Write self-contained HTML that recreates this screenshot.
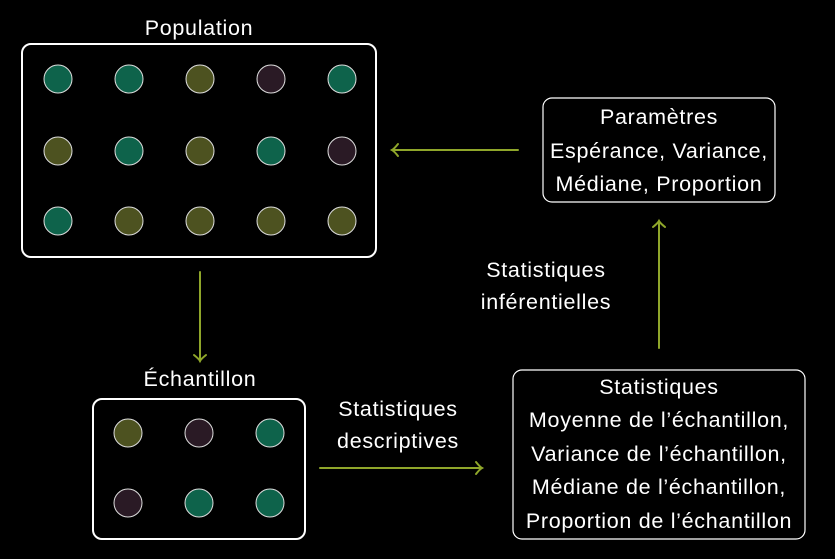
<!DOCTYPE html>
<html><head><meta charset="utf-8"><style>
html,body{margin:0;padding:0;background:#000;}
svg{display:block}
text{font-family:"Liberation Sans",sans-serif;font-size:21.5px;letter-spacing:0.7px;fill:#fff;text-anchor:middle;dominant-baseline:central}
</style></head><body>
<svg width="835" height="559" viewBox="0 0 835 559">
<defs>
<g id="T"><circle r="14" fill="#0e634b" stroke="#ddd" stroke-width="1"/></g>
<g id="O"><circle r="14" fill="#4d5220" stroke="#ddd" stroke-width="1"/></g>
<g id="P"><circle r="14" fill="#2a1a25" stroke="#ddd" stroke-width="1"/></g>
</defs>
<rect x="22" y="44" width="354" height="213" rx="9" fill="none" stroke="#fff" stroke-width="2"/>
<text x="199" y="28">Population</text>
<use href="#T" x="58" y="79"/><use href="#T" x="129" y="79"/><use href="#O" x="200" y="79"/><use href="#P" x="271" y="79"/><use href="#T" x="342" y="79"/>
<use href="#O" x="58" y="151"/><use href="#T" x="129" y="151"/><use href="#O" x="200" y="151"/><use href="#T" x="271" y="151"/><use href="#P" x="342" y="151"/>
<use href="#T" x="58" y="221"/><use href="#O" x="129" y="221"/><use href="#O" x="200" y="221"/><use href="#O" x="271" y="221"/><use href="#O" x="342" y="221"/>

<rect x="93" y="399" width="212" height="140" rx="9" fill="none" stroke="#fff" stroke-width="2"/>
<text x="200" y="379">Échantillon</text>
<use href="#O" x="128" y="433"/><use href="#P" x="199" y="433"/><use href="#T" x="270" y="433"/>
<use href="#P" x="128" y="503"/><use href="#T" x="199" y="503"/><use href="#T" x="270" y="503"/>

<rect x="543" y="98" width="232" height="104" rx="9" fill="none" stroke="#fff" stroke-width="1.2"/>
<text x="659" y="117">Paramètres</text>
<text x="659" y="151">Espérance, Variance,</text>
<text x="659" y="184">Médiane, Proportion</text>

<rect x="513" y="370" width="292" height="169" rx="9" fill="none" stroke="#fff" stroke-width="1.2"/>
<text x="659" y="387">Statistiques</text>
<text x="659" y="420">Moyenne de l’échantillon,</text>
<text x="659" y="454">Variance de l’échantillon,</text>
<text x="659" y="487">Médiane de l’échantillon,</text>
<text x="659" y="521">Proportion de l’échantillon</text>

<text x="398" y="409">Statistiques</text>
<text x="398" y="441">descriptives</text>
<text x="546" y="270">Statistiques</text>
<text x="546" y="302">inférentielles</text>

<g stroke="#8fa62a" stroke-width="2" fill="none" stroke-linecap="round">
<line x1="518" y1="150" x2="392" y2="150"/><path d="M398,144 Q394,149 392,150 Q394,151 398,156"/>
<line x1="200" y1="272" x2="200" y2="361"/><path d="M194,355 Q199,359 200,361 Q201,359 206,355"/>
<line x1="320" y1="468" x2="482" y2="468"/><path d="M476,462 Q480,467 482,468 Q480,469 476,474"/>
<line x1="659" y1="348" x2="659" y2="221"/><path d="M653,227 Q658,223 659,221 Q660,223 665,227"/>
</g>
</svg>
</body></html>
